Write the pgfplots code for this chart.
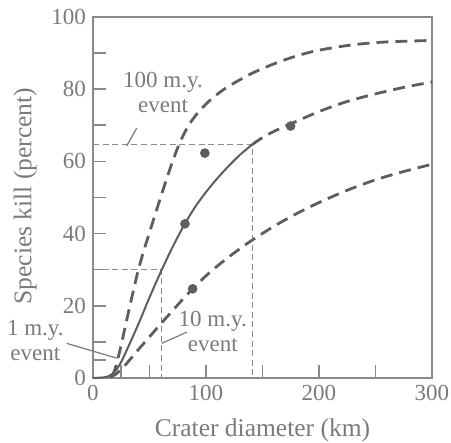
\documentclass[border=0pt]{standalone}
\usepackage{fontspec}
\setmainfont{Liberation Serif}
\usepackage{pgfplots}
\pgfplotsset{compat=1.18}
\definecolor{ln}{HTML}{5E5E5E}
\definecolor{tx}{HTML}{7A7A7A}
\definecolor{ax}{HTML}{8A8A8A}
\begin{document}
\begin{tikzpicture}
\begin{axis}[
  scale only axis, width=169.5bp, height=180.5bp,
  xmin=0, xmax=300, ymin=0, ymax=100,
  clip=false,
  axis line style={ax, line width=0.8bp},
  xtick={0,100,200,300}, ytick={0,20,40,60,80,100},
  minor xtick={25,50,150,250}, minor ytick={5,10,30,50,70,90},
  tick align=inside, xtick pos=bottom, ytick pos=left,
  major tick length=6.5bp, minor tick length=6.5bp,
  every tick/.style={ax, line width=0.8bp},
  every minor tick/.style={ax, line width=0.8bp},
  /pgf/number format/assume math mode=true,
  ticklabel style={font=\fontsize{11.5bp}{13bp}\selectfont, text=tx},
  xlabel={Crater diameter (km)},
  ylabel={Species kill (percent)},
  xlabel style={at={(axis description cs:0.5,-0.144)}, anchor=center, font=\fontsize{12.75bp}{15bp}\selectfont, text=tx},
  ylabel style={at={(axis description cs:-0.2,0.504)}, anchor=center, font=\fontsize{12.75bp}{15bp}\selectfont, text=tx},
]
% reference lines
\addplot [ax, line width=0.6bp, dash pattern=on 3bp off 1.8bp] coordinates {(0,64.6) (141,64.6) (141,0)};
\addplot [ax, line width=0.6bp, dash pattern=on 3bp off 1.8bp] coordinates {(0,30) (60.5,30) (60.5,0)};
% 100 m.y. curve
\addplot [ln, line width=1.4bp, dash pattern=on 6bp off 3.5bp, smooth, tension=0.5] coordinates {
 (17,0.5) (20,3) (25,9.2) (30,16.3) (35,23.2) (40,29.8) (45,35.3) (50,40.3) (55,45.3) (60,50.2) (65,55.0) (70,59.6) (75,63.8) (80,67.3) (85,70.1) (90,72.4) (100,75.9) (110,78.6) (120,80.8) (140,84.3) (160,87.0) (180,89.2) (200,90.8) (230,92.3) (260,93.1) (300,93.5)};
% 1 m.y. curve (solid part)
\addplot [ln, line width=1bp, smooth, tension=0.5] coordinates {
 (0,0) (10,0.2) (15,0.7) (20,2.0) (25,4.5) (30,7.8) (40,14.8) (50,22.3) (60,29.4) (70,36.0) (80,42.0) (90,47.2) (100,51.5) (110,55.3) (120,58.7) (130,61.8) (141,64.7)};
% 1 m.y. curve (dashed part)
\addplot [ln, line width=1.4bp, dash pattern=on 6bp off 3.5bp, smooth, tension=0.5] coordinates {
 (141,64.7) (150,66.6) (160,68.3) (175,70.4) (200,73.8) (225,76.6) (250,78.7) (275,80.5) (300,82.0)};
% 10 m.y. curve
\addplot [ln, line width=1.4bp, dash pattern=on 6bp off 3.5bp, smooth, tension=0.5] coordinates {
 (15,0.2) (20,1.0) (25,2.4) (30,4.1) (40,7.8) (50,11.4) (60,15.0) (70,18.5) (80,22.0) (90,25.3) (100,28.3) (110,31.0) (120,33.5) (130,35.8) (140,38.0) (160,42.0) (180,45.5) (200,48.6) (225,52.0) (250,54.9) (275,57.2) (300,59.2)};
% data points
\addplot [only marks, mark=*, mark size=2.2bp, ln] coordinates {(99,62.3) (81.4,42.7) (174.9,69.8) (88.2,24.7)};
% leader lines
\addplot [tx, line width=0.6bp] coordinates {(29.8,64.3) (38.7,69.2)};
\addplot [tx, line width=0.6bp] coordinates {(60.8,9.6) (83,12.7)};
\addplot [tx, line width=0.6bp] coordinates {(-23.3,9.6) (21,5.5)};
% annotations
\node [align=center, text=tx, font=\fontsize{11.5bp}{12.5bp}\selectfont] at (axis cs:62,79) {100 m.y.\\event};
\node [align=center, text=tx, font=\fontsize{11.5bp}{12.5bp}\selectfont] at (axis cs:106,12.8) {10 m.y.\\event};
\node [align=center, text=tx, font=\fontsize{11.5bp}{12.5bp}\selectfont] at (axis cs:-51,10.3) {1 m.y.\\event};
\end{axis}
\pgfresetboundingbox
\path ([shift={(-46.5bp,-32.5bp)}]current axis.south west) rectangle ([shift={(9.5bp,8.5bp)}]current axis.north east);
\end{tikzpicture}
\end{document}
